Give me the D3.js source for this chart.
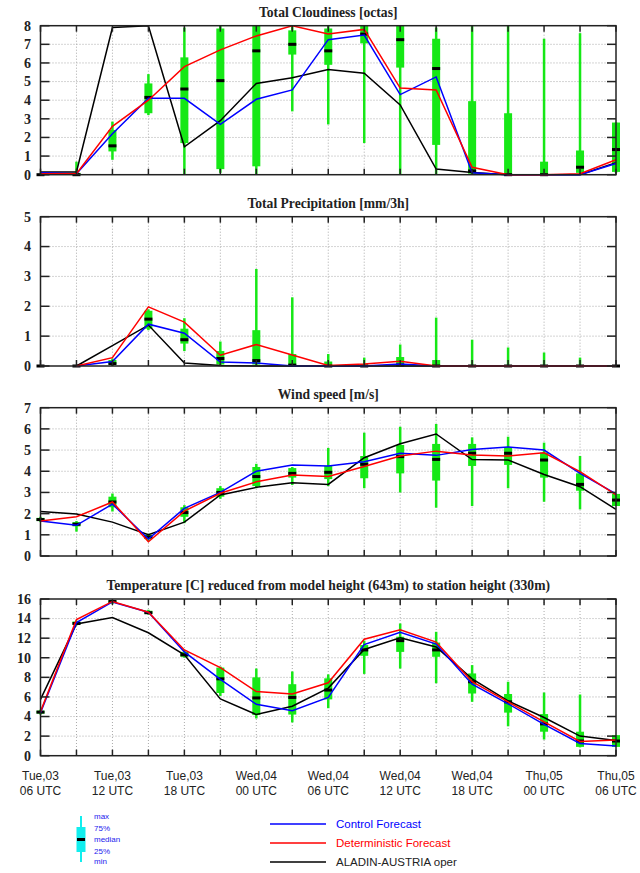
<!DOCTYPE html>
<html>
<head>
<meta charset="utf-8">
<script src="https://cdn.jsdelivr.net/npm/d3@7"></script>
<style>
    body { margin: 0; background: #fff; }
</style>
</head>
<body>
<div id="chart"></div>
<script>
// 17 steps, every 3 hours from Tue,03 06 UTC
const steps = d3.range(17)
const dayLabels = ['Tue,03', 'Tue,03', 'Tue,03', 'Wed,04', 'Wed,04', 'Wed,04', 'Wed,04', 'Thu,05', 'Thu,05']
const hourLabels = ['06 UTC', '12 UTC', '18 UTC', '00 UTC', '06 UTC', '12 UTC', '18 UTC', '00 UTC', '06 UTC']

// cloudiness [octas]
const cloudCtrl = [0.1, 0.05, 2.2, 4.1, 4.1, 2.7, 4.05, 4.55, 7.25, 7.5, 4.3, 5.25, 0.1, 0, 0, 0, 0.6]
const cloudDet = [0.05, 0.05, 2.6, 4.0, 5.8, 6.7, 7.45, 8.0, 7.55, 7.8, 4.65, 4.55, 0.4, 0, 0, 0.05, 0.8]
const cloudAla = [0.15, 0.15, 7.9, 8.0, 1.5, 2.9, 4.9, 5.2, 5.65, 5.45, 3.75, 0.3, 0.12, 0, 0, 0, 0.65]
const cloudMin = [0, 0, 0.8, 3.2, 0, 0.1, 0, 3.4, 2.7, 1.7, 0, 0, 0, 0, 0, 0, 0.1]
const cloudQ1 = [0, 0, 1.25, 3.3, 1.7, 0.3, 0.45, 6.45, 5.9, 7.05, 5.75, 1.6, 0.05, 0, 0, 0.1, 0.15]
const cloudMed = [0, 0, 1.55, 4.15, 4.6, 5.05, 6.65, 7.0, 6.65, 7.55, 7.25, 5.7, 0.2, 0, 0, 0.4, 1.35]
const cloudQ3 = [0, 0.1, 2.4, 4.9, 6.3, 7.85, 8, 7.75, 7.85, 8, 8, 7.3, 3.95, 3.3, 0.7, 1.3, 2.8]
const cloudMax = [0, 0.7, 2.85, 5.4, 7.9, 8, 8, 8, 8, 8, 8, 7.9, 8, 8, 7.3, 7.6, 2.8]

// precipitation [mm/3h]
const precCtrl = [null, 0, 0.15, 1.4, 1.1, 0.13, 0.1, 0, 0, 0, 0.07, 0, 0, 0, 0, 0, 0]
const precDet = [null, 0, 0.28, 1.98, 1.47, 0.36, 0.72, 0.37, 0.02, 0.07, 0.16, 0, 0, 0, 0, 0, 0]
const precAla = [null, 0, 0.68, 1.37, 0.1, 0.02, 0, 0, 0, 0, 0, 0, 0, 0, 0, 0, 0]
const precMin = [0, 0, 0, 1.2, 0.5, 0, 0, 0, 0, 0, 0, 0, 0, 0, 0, 0, 0]
const precQ1 = [0, 0, 0.05, 1.25, 0.75, 0.05, 0.05, 0, 0, 0, 0, 0, 0, 0, 0, 0, 0]
const precMed = [0, 0, 0.08, 1.57, 0.88, 0.25, 0.18, 0.03, 0, 0, 0.03, 0, 0, 0, 0, 0, 0]
const precQ3 = [0, 0, 0.2, 1.85, 1.25, 0.5, 1.2, 0.4, 0.15, 0.05, 0.3, 0.2, 0.02, 0, 0, 0, 0]
const precMax = [0, 0, 0.25, 1.9, 1.6, 0.82, 3.25, 2.3, 0.4, 0.28, 0.72, 1.62, 0.88, 0.62, 0.45, 0.28, 0]

// wind speed [m/s]
const windCtrl = [1.65, 1.45, 2.45, 0.8, 2.25, 3.0, 4.0, 4.3, 4.25, 4.45, 4.85, 4.75, 5.03, 5.15, 5.0, 3.9, 2.93]
const windDet = [1.65, 1.85, 2.55, 0.67, 2.12, 2.96, 3.5, 3.82, 3.75, 4.22, 4.72, 4.95, 4.77, 4.72, 4.87, 3.98, 2.88]
const windAla = [2.1, 1.98, 1.6, 1.0, 1.6, 2.88, 3.24, 3.46, 3.38, 4.64, 5.3, 5.76, 4.55, 4.53, 3.85, 3.27, 2.2]
const windMin = [1.6, 1.15, 2.1, 0.7, 1.55, 2.7, 3.2, 3.35, 3.3, 3.2, 3.0, 2.28, 2.36, 3.2, 2.56, 2.2, 2.36]
const windQ1 = [1.65, 1.4, 2.3, 0.8, 1.85, 2.8, 3.3, 3.7, 3.63, 3.67, 3.9, 3.56, 4.25, 4.3, 3.7, 3.08, 2.36]
const windMed = [1.72, 1.5, 2.55, 0.9, 2.05, 3.0, 3.75, 3.9, 3.95, 4.33, 4.69, 4.56, 4.85, 4.85, 4.53, 3.38, 2.64]
const windQ3 = [1.8, 1.6, 2.8, 1.0, 2.3, 3.2, 4.2, 4.15, 4.25, 4.72, 5.24, 5.29, 5.29, 5.13, 4.88, 3.9, 2.93]
const windMax = [1.85, 1.65, 2.95, 1.05, 2.4, 3.3, 4.35, 4.2, 5.1, 5.82, 6.1, 6.23, 5.6, 5.63, 5.35, 4.72, 2.93]

// temperature [C]
const tempCtrl = [4.4, 13.6, 15.7, 14.65, 10.6, 7.8, 5.25, 4.6, 5.95, 11.35, 12.6, 11.4, 7.3, 5.3, 3.2, 1.25, 1.0]
const tempDet = [4.5, 13.9, 15.75, 14.65, 10.8, 9.0, 6.55, 6.3, 7.45, 11.9, 12.85, 11.6, 7.55, 5.5, 3.45, 1.45, 1.6]
const tempAla = [5.75, 13.45, 14.1, 12.55, 10.3, 5.8, 4.2, 5.05, 6.9, 10.85, 12.05, 11.1, 7.85, 5.6, 3.9, 2.0, 1.55]
const tempMin = [4.2, 13.3, 15.5, 14.4, 10.0, 6.1, 3.8, 3.4, 4.85, 8.35, 8.9, 7.4, 5.5, 3.0, 1.65, 0.85, 0.9]
const tempQ1 = [4.3, 13.4, 15.6, 14.5, 10.1, 6.4, 4.15, 4.2, 5.75, 10.2, 10.6, 10.1, 6.35, 4.4, 2.45, 0.9, 0.9]
const tempMed = [4.45, 13.5, 15.75, 14.6, 10.3, 7.85, 5.9, 5.95, 6.7, 10.8, 11.75, 10.8, 7.55, 5.5, 3.25, 1.5, 1.5]
const tempQ3 = [4.6, 13.7, 15.85, 14.8, 10.6, 9.0, 8.0, 7.3, 7.9, 11.3, 12.15, 11.55, 8.4, 6.3, 4.25, 2.45, 2.1]
const tempMax = [4.7, 13.8, 15.9, 14.9, 10.8, 9.1, 8.9, 8.6, 8.3, 11.75, 13.5, 12.65, 9.25, 7.55, 6.45, 6.25, 2.1]

const green = '#16e816'
const serif = '"Liberation Serif", "DejaVu Serif", serif'
const sans = '"Liberation Sans", Arial, sans-serif'

const panels = [
    { title: 'Total Cloudiness [octas]', top: 25.7, bottom: 174.7, max: 8, step: 1,
      ctrl: cloudCtrl, det: cloudDet, ala: cloudAla,
      box: [cloudMin, cloudQ1, cloudMed, cloudQ3, cloudMax] },
    { title: 'Total Precipitation [mm/3h]', top: 216.7, bottom: 366, max: 5, step: 1,
      ctrl: precCtrl, det: precDet, ala: precAla,
      box: [precMin, precQ1, precMed, precQ3, precMax] },
    { title: 'Wind speed [m/s]', top: 407.7, bottom: 556, max: 7, step: 1,
      ctrl: windCtrl, det: windDet, ala: windAla,
      box: [windMin, windQ1, windMed, windQ3, windMax] },
    { title: 'Temperature [C] reduced from model height (643m) to station height (330m)', top: 599, bottom: 755.7, max: 16, step: 2,
      ctrl: tempCtrl, det: tempDet, ala: tempAla,
      box: [tempMin, tempQ1, tempMed, tempQ3, tempMax] }
]

const svg = d3.select('#chart').append('svg')
    .attr('width', 640)
    .attr('height', 873)

const x = d3.scaleLinear().domain([0, 16]).range([40.5, 616])

panels.forEach(p => {
    const y = d3.scaleLinear().domain([0, p.max]).range([p.bottom, p.top])
    const g = svg.append('g')
    const yTicks = d3.range(0, p.max + 0.001, p.step)

    // grid
    g.selectAll('.vgrid').data(steps.slice(1, 16)).join('line')
        .attr('x1', d => x(d)).attr('x2', d => x(d))
        .attr('y1', p.top).attr('y2', p.bottom)
        .attr('stroke', '#aaa').attr('stroke-dasharray', '1,2')
    g.selectAll('.hgrid').data(yTicks.slice(1, -1)).join('line')
        .attr('x1', x(0)).attr('x2', x(16))
        .attr('y1', d => y(d)).attr('y2', d => y(d))
        .attr('stroke', '#aaa').attr('stroke-dasharray', '1,2')

    // ensemble box plots
    const [bMin, bQ1, bMed, bQ3, bMax] = p.box
    const bx = g.append('g')
    bx.selectAll('.whisker').data(steps).join('line')
        .attr('x1', d => x(d)).attr('x2', d => x(d))
        .attr('y1', d => y(bMin[d])).attr('y2', d => y(bMax[d]))
        .attr('stroke', green).attr('stroke-width', 2.5)
    bx.selectAll('.box').data(steps).join('rect')
        .attr('x', d => x(d) - 4).attr('width', 8)
        .attr('y', d => y(bQ3[d]))
        .attr('height', d => Math.max(1, y(bQ1[d]) - y(bQ3[d])))
        .attr('fill', green)
        .attr('opacity', d => bQ3[d] > bQ1[d] ? 1 : 0)
    bx.selectAll('.median').data(steps).join('rect')
        .attr('x', d => x(d) - 4).attr('width', 8)
        .attr('y', d => y(bMed[d]) - 1.5).attr('height', 3)
        .attr('fill', '#000')

    // forecast lines
    const line = d3.line()
        .defined(d => d[1] != null)
        .x(d => x(d[0]))
        .y(d => y(d[1]))
    const series = [[p.ala, '#000'], [p.ctrl, '#0000ff'], [p.det, '#ff0000']]
    series.forEach(([vals, color]) => {
        g.append('path')
            .datum(steps.map(i => [i, vals[i]]))
            .attr('d', line)
            .attr('fill', 'none')
            .attr('stroke', color)
            .attr('stroke-width', 1.5)
    })

    // frame and ticks
    g.append('rect')
        .attr('x', x(0)).attr('y', p.top)
        .attr('width', x(16) - x(0)).attr('height', p.bottom - p.top)
        .attr('fill', 'none').attr('stroke', '#222').attr('stroke-width', 1.5)
    g.selectAll('.xt1').data(steps).join('line')
        .attr('x1', d => x(d)).attr('x2', d => x(d))
        .attr('y1', p.top).attr('y2', p.top + 6)
        .attr('stroke', '#222').attr('stroke-width', 1.5)
    g.selectAll('.xt2').data(steps).join('line')
        .attr('x1', d => x(d)).attr('x2', d => x(d))
        .attr('y1', p.bottom).attr('y2', p.bottom - 6)
        .attr('stroke', '#222').attr('stroke-width', 1.5)
    g.selectAll('.yt1').data(yTicks).join('line')
        .attr('x1', x(0)).attr('x2', x(0) + 9)
        .attr('y1', d => y(d)).attr('y2', d => y(d))
        .attr('stroke', '#222').attr('stroke-width', 1.5)
    g.selectAll('.yt2').data(yTicks).join('line')
        .attr('x1', x(16)).attr('x2', x(16) - 9)
        .attr('y1', d => y(d)).attr('y2', d => y(d))
        .attr('stroke', '#222').attr('stroke-width', 1.5)

    g.selectAll('.ylab').data(yTicks).join('text')
        .attr('x', 31).attr('y', d => y(d))
        .attr('dy', '0.35em')
        .attr('text-anchor', 'end')
        .attr('font-family', serif).attr('font-weight', 'bold').attr('font-size', '14px')
        .attr('fill', '#222')
        .text(d => d)

    g.append('text')
        .attr('x', (x(0) + x(16)) / 2).attr('y', p.top - 9)
        .attr('text-anchor', 'middle')
        .attr('font-family', serif).attr('font-weight', 'bold').attr('font-size', '13.6px')
        .attr('fill', '#222')
        .text(p.title)
})

// time axis labels every 6 hours
const lab = svg.append('g')
    .attr('font-family', sans).attr('font-size', '12px').attr('fill', '#222')
    .attr('text-anchor', 'middle')
dayLabels.forEach((d, i) => {
    lab.append('text').attr('x', x(i * 2)).attr('y', 780).text(d)
    lab.append('text').attr('x', x(i * 2)).attr('y', 795).text(hourLabels[i])
})

// box plot key
const key = svg.append('g')
key.append('line')
    .attr('x1', 81).attr('x2', 81).attr('y1', 816).attr('y2', 862)
    .attr('stroke', '#11eeee').attr('stroke-width', 2)
key.append('rect')
    .attr('x', 76.5).attr('y', 827).attr('width', 9).attr('height', 25)
    .attr('fill', '#11eeee')
key.append('rect')
    .attr('x', 77).attr('y', 838).attr('width', 8).attr('height', 3)
    .attr('fill', '#000')
const keyLabels = ['max', '75%', 'median', '25%', 'min']
const keyY = [816, 828, 839, 851, 861]
key.selectAll('.kl').data(keyLabels).join('text')
    .attr('x', 94).attr('y', (d, i) => keyY[i])
    .attr('dy', '0.35em')
    .attr('font-family', sans).attr('font-size', '8px')
    .attr('fill', '#2222ee')
    .text(d => d)

// line legend
const legendNames = ['Control Forecast', 'Deterministic Forecast', 'ALADIN-AUSTRIA oper']
const legendColors = ['#0000ff', '#ff0000', '#000']
const legendTextColors = ['#0000ff', '#ff0000', '#222']
const legendY = [824, 843, 862]
const leg = svg.append('g')
leg.selectAll('line').data(legendNames).join('line')
    .attr('x1', 270).attr('x2', 326)
    .attr('y1', (d, i) => legendY[i]).attr('y2', (d, i) => legendY[i])
    .attr('stroke', (d, i) => legendColors[i]).attr('stroke-width', 1.5)
leg.selectAll('text').data(legendNames).join('text')
    .attr('x', 336).attr('y', (d, i) => legendY[i])
    .attr('dy', '0.35em')
    .attr('font-family', sans).attr('font-size', '11.5px')
    .attr('fill', (d, i) => legendTextColors[i])
    .text(d => d)
</script>
</body>
</html>
